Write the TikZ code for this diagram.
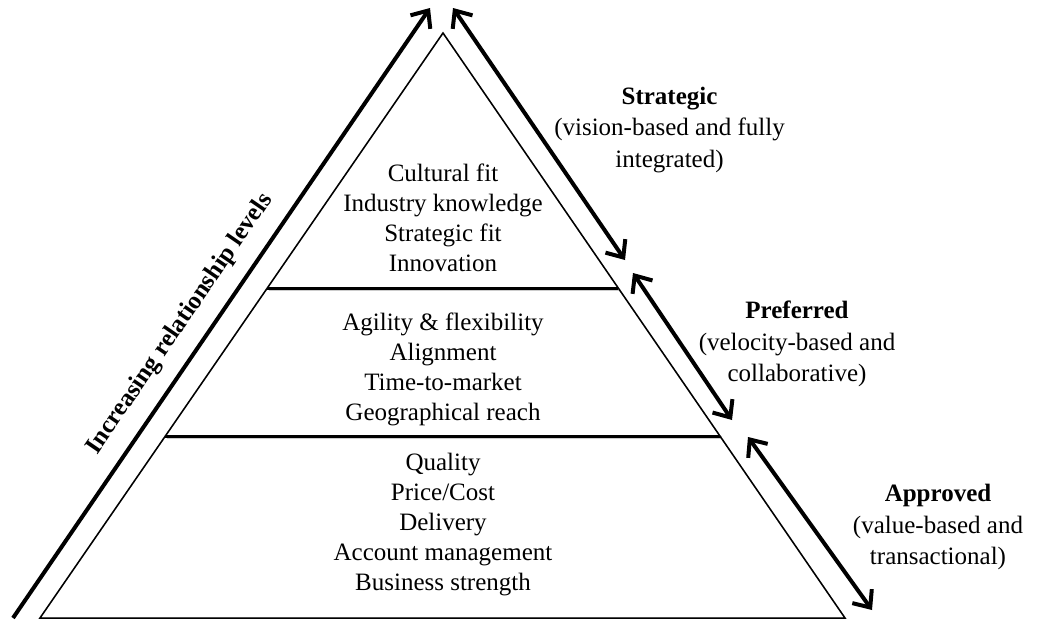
\documentclass[tikz,border=0pt]{standalone}
\usepackage{fontspec}
\setmainfont{Liberation Serif}
\usetikzlibrary{arrows.meta, positioning, calc}

\begin{document}
\begin{tikzpicture}[x=1pt, y=-1pt,
    pyrtext/.style={font=\fontsize{25}{30}\selectfont, align=center},
    tiertext/.style={font=\fontsize{25}{31.5}\selectfont, align=center},
    edge/.style={line width=1.5pt},
    divider/.style={line width=3pt},
    bigarrow/.style={line width=4pt}]
  \tikzset{barb/.tip={Straight Barb[length=14pt, width=24pt]}}
  \useasboundingbox (0,0) rectangle (1045,621);

  % Pyramid corners
  \coordinate (apex) at (443,33);
  \coordinate (bl) at (40,618);
  \coordinate (br) at (845,618);

  % Soft shadow
  \begin{scope}[gray!40, shift={(1.5,1.5)}]
    \draw[edge] (apex) -- (bl) -- (br) -- cycle;
    \draw[divider] (267,288) -- (618,288);
    \draw[divider] (165,436) -- (720,436);
  \end{scope}

  % Pyramid and level dividers
  \draw[edge] (apex) -- (bl) -- (br) -- cycle;
  \draw[divider] (267,288) -- (618,288);
  \draw[divider] (165,436) -- (720,436);

  % Criteria per level
  \node[pyrtext] (stratlist) at (443,218) {Cultural fit\\Industry knowledge\\Strategic fit\\Innovation};
  \node[pyrtext] (preflist) at (443,369) {Agility \& flexibility\\Alignment\\Time-to-market\\Geographical reach};
  \node[pyrtext] (applist) at (443,525) {Quality\\Price/Cost\\Delivery\\Account management\\Business strength};

  % Left arrow
  \coordinate (lefttail) at (13,618);
  \coordinate (lefttip) at (430,8);
  \draw[bigarrow, -{barb}] (lefttail) -- (lefttip);
  \node[font=\fontsize{25}{30}\selectfont\bfseries, rotate=55.5] (levels) at (180,324) {Increasing relationship levels};

  % Right arrows for the tiers
  \coordinate (stratA) at (453,8);
  \coordinate (stratB) at (625,260);
  \coordinate (prefA) at (633,273);
  \coordinate (prefB) at (732,420);
  \coordinate (appA) at (748,437);
  \coordinate (appB) at (872,610);
  \draw[bigarrow, {barb}-{barb}] (stratA) -- (stratB);
  \draw[bigarrow, {barb}-{barb}] (prefA) -- (prefB);
  \draw[bigarrow, {barb}-{barb}] (appA) -- (appB);

  % Tier labels
  \node[tiertext] (strategic) at (669.5,130) {\textbf{Strategic}\\(vision-based and fully\\integrated)};
  \node[tiertext] (preferred) at (797,344) {\textbf{Preferred}\\(velocity-based and\\collaborative)};
  \node[tiertext] (approved) at (938,527) {\textbf{Approved}\\(value-based and\\transactional)};
\end{tikzpicture}
\end{document}
